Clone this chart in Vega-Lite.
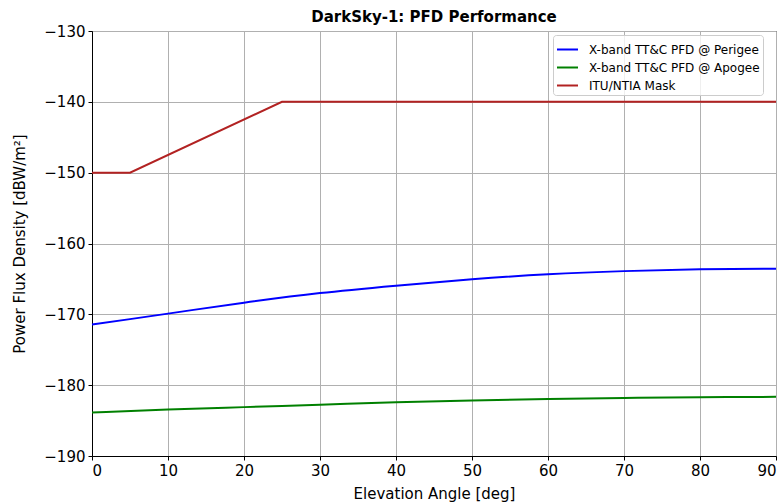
{
  "$schema": "https://vega.github.io/schema/vega-lite/v6.json",
  "width": 684,
  "height": 425,
  "autosize": "none",
  "padding": {"left": 92, "top": 31, "right": 8, "bottom": 48},
  "background": "white",
  "title": {"text": "DarkSky-1: PFD Performance", "font": "DejaVu Sans", "fontSize": 15, "fontWeight": "bold", "color": "black", "anchor": "middle", "offset": -1},
  "config": {
    "view": {"stroke": "black", "strokeWidth": 1},
    "font": "DejaVu Sans",
    "axis": {
      "labelFont": "DejaVu Sans", "labelFontSize": 15, "labelColor": "black",
      "titleFont": "DejaVu Sans", "titleFontSize": 15, "titleFontWeight": "normal", "titleColor": "black",
      "domainColor": "black", "tickColor": "black", "tickSize": 4,
      "gridColor": "#b0b0b0", "gridWidth": 1, "gridOpacity": 1
    }
  },
  "data": {"values": [
    {"series": "ITU/NTIA Mask", "angle": 0, "pfd": -150},
    {"series": "ITU/NTIA Mask", "angle": 5, "pfd": -150},
    {"series": "ITU/NTIA Mask", "angle": 25, "pfd": -140},
    {"series": "ITU/NTIA Mask", "angle": 90, "pfd": -140},
    {"series": "X-band TT&C PFD @ Perigee", "angle": 0, "pfd": -171.45},
    {"series": "X-band TT&C PFD @ Perigee", "angle": 10, "pfd": -169.9},
    {"series": "X-band TT&C PFD @ Perigee", "angle": 20, "pfd": -168.35},
    {"series": "X-band TT&C PFD @ Perigee", "angle": 30, "pfd": -167.0},
    {"series": "X-band TT&C PFD @ Perigee", "angle": 40, "pfd": -165.95},
    {"series": "X-band TT&C PFD @ Perigee", "angle": 50, "pfd": -165.05},
    {"series": "X-band TT&C PFD @ Perigee", "angle": 60, "pfd": -164.35},
    {"series": "X-band TT&C PFD @ Perigee", "angle": 70, "pfd": -163.9},
    {"series": "X-band TT&C PFD @ Perigee", "angle": 80, "pfd": -163.65},
    {"series": "X-band TT&C PFD @ Perigee", "angle": 90, "pfd": -163.55},
    {"series": "X-band TT&C PFD @ Apogee", "angle": 0, "pfd": -183.85},
    {"series": "X-band TT&C PFD @ Apogee", "angle": 10, "pfd": -183.45},
    {"series": "X-band TT&C PFD @ Apogee", "angle": 20, "pfd": -183.1},
    {"series": "X-band TT&C PFD @ Apogee", "angle": 30, "pfd": -182.75},
    {"series": "X-band TT&C PFD @ Apogee", "angle": 40, "pfd": -182.4},
    {"series": "X-band TT&C PFD @ Apogee", "angle": 50, "pfd": -182.15},
    {"series": "X-band TT&C PFD @ Apogee", "angle": 60, "pfd": -181.95},
    {"series": "X-band TT&C PFD @ Apogee", "angle": 70, "pfd": -181.8},
    {"series": "X-band TT&C PFD @ Apogee", "angle": 80, "pfd": -181.7},
    {"series": "X-band TT&C PFD @ Apogee", "angle": 90, "pfd": -181.65}
  ]},
  "encoding": {
    "x": {"field": "angle", "type": "quantitative", "scale": {"domain": [0, 90], "nice": false, "zero": false},
      "axis": {"values": [0,10,20,30,40,50,60,70,80,90], "title": "Elevation Angle [deg]", "labelPadding": 3, "titlePadding": 8}},
    "y": {"field": "pfd", "type": "quantitative", "scale": {"domain": [-190, -130], "nice": false, "zero": false},
      "axis": {"values": [-190,-180,-170,-160,-150,-140,-130], "title": "Power Flux Density [dBW/m²]", "labelPadding": 3, "titlePadding": 16}},
    "color": {"field": "series", "type": "nominal",
      "scale": {"domain": ["X-band TT&C PFD @ Perigee", "X-band TT&C PFD @ Apogee", "ITU/NTIA Mask"], "range": ["#0000ff", "#008000", "#b22222"]},
      "legend": {"title": null, "orient": "none", "legendX": 461, "legendY": 4,
        "symbolType": "stroke", "symbolSize": 441, "symbolStrokeWidth": 2, "rowPadding": -4,
        "labelFont": "DejaVu Sans", "labelFontSize": 12, "labelColor": "black", "labelOffset": 10, "labelLimit": 400,
        "padding": 3, "strokeColor": "#cccccc", "fillColor": "rgba(255,255,255,0.8)", "cornerRadius": 3}}
  },
  "layer": [
    {"transform": [{"filter": "datum.series != 'ITU/NTIA Mask'"}],
     "mark": {"type": "line", "strokeWidth": 2, "interpolate": "monotone"}},
    {"transform": [{"filter": "datum.series == 'ITU/NTIA Mask'"}],
     "mark": {"type": "line", "strokeWidth": 2, "interpolate": "linear"}}
  ]
}
